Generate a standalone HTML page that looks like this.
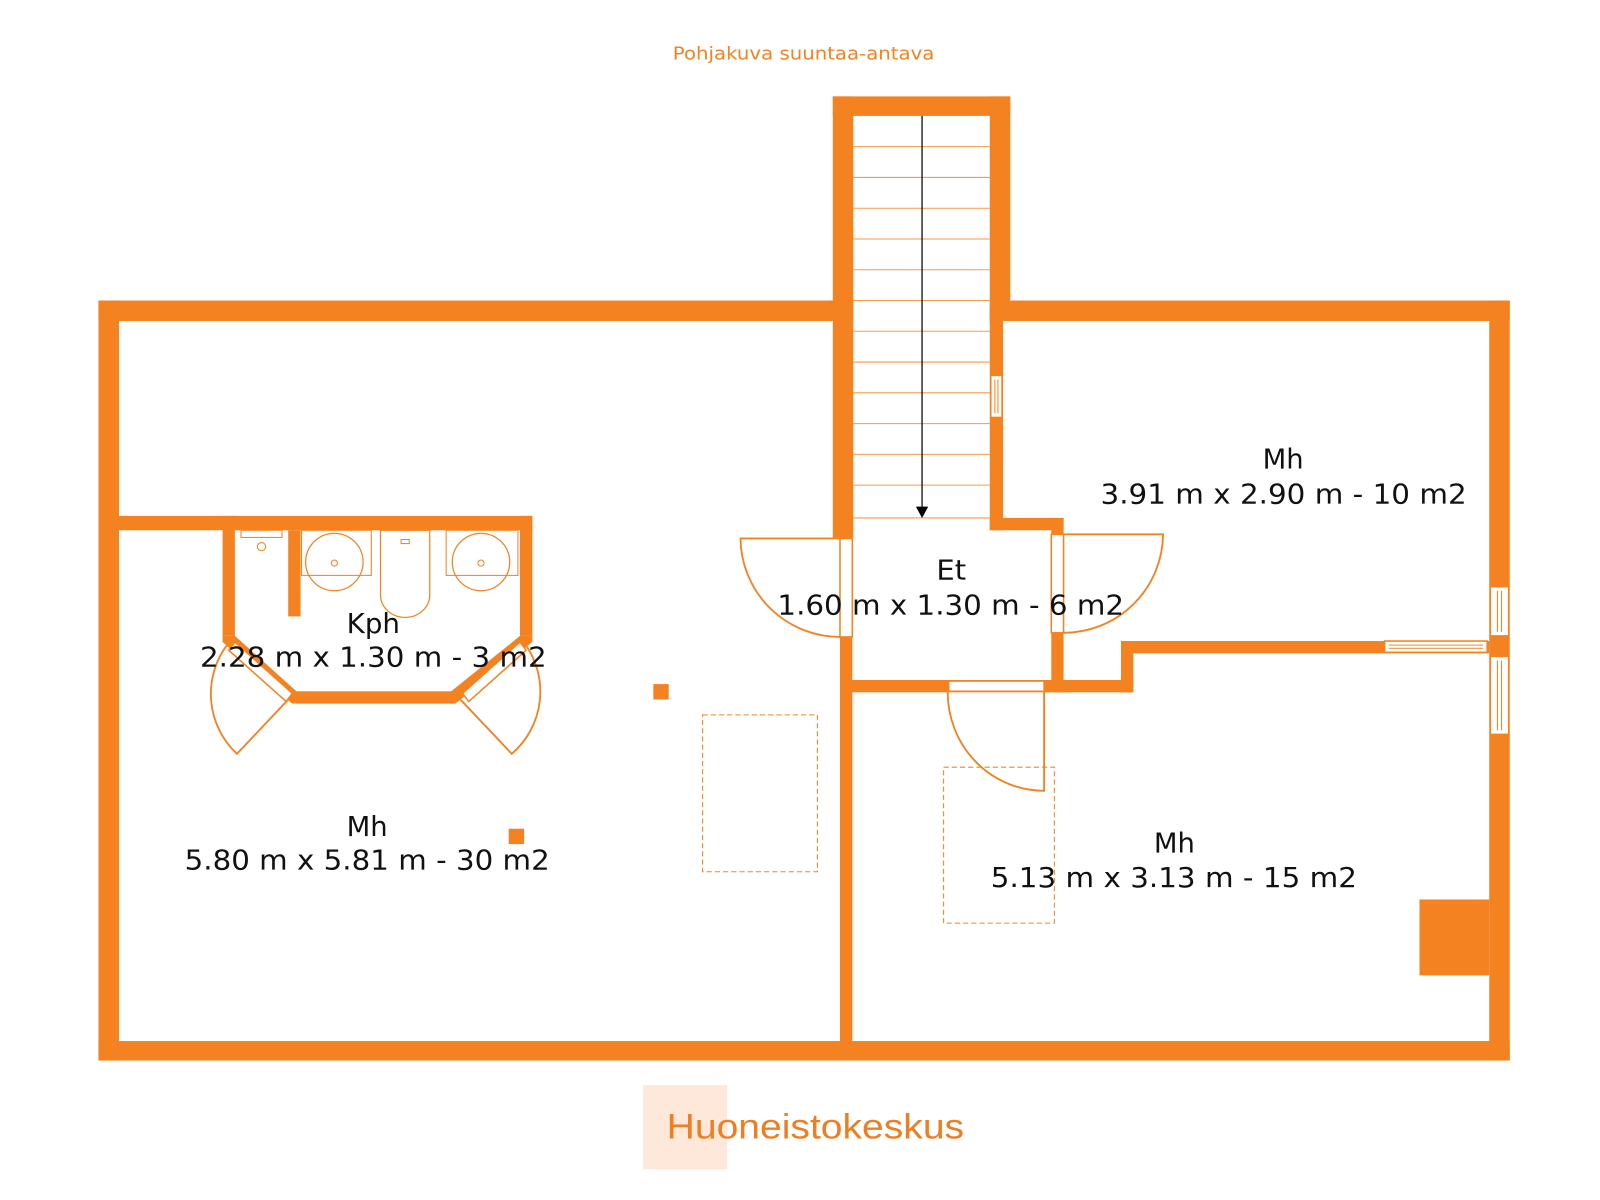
<!DOCTYPE html>
<html><head><meta charset="utf-8"><style>
html,body{margin:0;padding:0;background:#fff;}
svg{display:block;}
text{font-family:"DejaVu Sans","Liberation Sans",sans-serif;}
</style></head><body>
<svg width="1600" height="1200" viewBox="0 0 1560 1170" xmlns="http://www.w3.org/2000/svg">
<g fill="#f58220" stroke="none">
<rect x="96" y="293" width="736" height="20"/>
<rect x="965" y="293" width="507" height="20"/>
<rect x="96" y="293" width="20" height="741"/>
<rect x="96" y="1015" width="1376" height="19"/>
<rect x="1452" y="293" width="20" height="741"/>
<rect x="812" y="94" width="173" height="19"/>
<rect x="812" y="94" width="20" height="430"/>
<rect x="965" y="94" width="20" height="219"/>
<rect x="965" y="300" width="13" height="217"/>
<rect x="965" y="505" width="72" height="12"/>
<rect x="1025" y="505" width="12" height="170"/>
<rect x="819" y="520" width="12" height="495"/>
<rect x="819" y="663" width="286" height="12"/>
<rect x="1093" y="625" width="12" height="50"/>
<rect x="1093" y="625" width="359" height="12"/>
<rect x="116" y="503" width="403" height="14"/>
<rect x="217" y="503" width="12" height="117"/>
<rect x="507" y="503" width="12" height="117"/>
<rect x="281" y="517" width="12" height="84"/>
<polygon points="217,620 229,620 289,674 285,686 217,626"/>
<polygon points="519,620 507,620 440,674 444,686 519,626"/>
<rect x="285" y="674" width="159" height="12"/>
<rect x="637" y="667" width="15" height="15"/>
<rect x="496" y="808" width="15" height="15"/>
<rect x="1384" y="877" width="68" height="74"/>
</g>
<g fill="#fff" stroke="#f58220" stroke-width="1.5">
<rect x="925" y="664" width="93" height="10"/>
<rect x="966" y="366" width="11" height="41"/>
<rect x="1453" y="572" width="18" height="48"/>
<rect x="1453" y="640" width="18" height="76"/>
<rect x="1350" y="625" width="100" height="11"/>
<rect x="819" y="525" width="12" height="96"/>
<rect x="1025" y="521" width="12" height="96"/>
<polygon points="229,626 285,676 279,684 223,634"/>
<polygon points="507,626 451,676 457,684 513,634"/>
</g>
<g stroke="#f58220" stroke-width="1">
<line x1="1460" y1="576" x2="1460" y2="616"/><line x1="1464" y1="576" x2="1464" y2="616"/>
<line x1="1460" y1="644" x2="1460" y2="712"/><line x1="1464" y1="644" x2="1464" y2="712"/>
<line x1="1354" y1="629" x2="1446" y2="629"/><line x1="1354" y1="632" x2="1446" y2="632"/>
<line x1="970" y1="370" x2="970" y2="403"/><line x1="973" y1="370" x2="973" y2="403"/>
</g>
<g fill="none" stroke="#f58220" stroke-width="1.8">
<path d="M819,525 L722,525 A97,97 0 0 0 819,621"/>
<path d="M1037,521 L1134,521 A97,97 0 0 1 1037,617"/>
<path d="M924,675 A94,96 0 0 0 1018,771 L1018,675"/>
<path d="M283,680 L231,735 A80,80 0 0 1 222,628"/>
<path d="M447,680 L499,735 A80,80 0 0 0 512,628"/>
<rect x="235" y="517" width="40" height="7" stroke-width="1"/>
<circle cx="255" cy="533" r="4" stroke-width="1"/>
<rect x="294" y="517" width="68" height="44" stroke-width="1"/>
<circle cx="326" cy="548" r="28" stroke-width="1.2"/>
<circle cx="326" cy="549" r="3" stroke-width="1"/>
<path d="M371,517 L419,517 L419,580 A24,22 0 0 1 371,580 Z" stroke-width="1.2"/>
<rect x="391" y="526" width="8" height="4" stroke-width="1"/>
<rect x="435" y="517" width="70" height="44" stroke-width="1"/>
<circle cx="469" cy="548" r="28" stroke-width="1.2"/>
<circle cx="469" cy="549" r="3" stroke-width="1"/>
</g>
<g stroke="#f58220" stroke-width="1" fill="none" stroke-dasharray="5,3">
<rect x="685" y="697" width="112" height="153"/>
<rect x="920" y="748" width="108" height="152"/>
</g>
<g stroke="#f58220" stroke-width="1" opacity="0.8">
<line x1="832" y1="143" x2="965" y2="143"/><line x1="832" y1="173" x2="965" y2="173"/>
<line x1="832" y1="203" x2="965" y2="203"/><line x1="832" y1="233" x2="965" y2="233"/>
<line x1="832" y1="263" x2="965" y2="263"/><line x1="832" y1="293" x2="965" y2="293"/>
<line x1="832" y1="323" x2="965" y2="323"/><line x1="832" y1="353" x2="965" y2="353"/>
<line x1="832" y1="383" x2="965" y2="383"/><line x1="832" y1="413" x2="965" y2="413"/>
<line x1="832" y1="443" x2="965" y2="443"/><line x1="832" y1="473" x2="965" y2="473"/>
<line x1="832" y1="505" x2="965" y2="505"/>
</g>
<line x1="899" y1="113" x2="899" y2="496" stroke="#000" stroke-width="1.2"/>
<polygon points="893,494 905,494 899,505" fill="#000"/>
<text x="656" y="58" font-size="17" fill="#f58220" textLength="255" lengthAdjust="spacingAndGlyphs">Pohjakuva suuntaa-antava</text>
<g font-size="27" fill="#111">
<text x="1231" y="457" textLength="40" lengthAdjust="spacingAndGlyphs">Mh</text>
<text x="1073" y="491" textLength="357" lengthAdjust="spacingAndGlyphs">3.91 m x 2.90 m - 10 m2</text>
<text x="913" y="565" textLength="29" lengthAdjust="spacingAndGlyphs">Et</text>
<text x="758" y="599" textLength="338" lengthAdjust="spacingAndGlyphs">1.60 m x 1.30 m - 6 m2</text>
<text x="338" y="617" textLength="52" lengthAdjust="spacingAndGlyphs">Kph</text>
<text x="195" y="650" textLength="338" lengthAdjust="spacingAndGlyphs">2.28 m x 1.30 m - 3 m2</text>
<text x="338" y="815" textLength="40" lengthAdjust="spacingAndGlyphs">Mh</text>
<text x="180" y="848" textLength="356" lengthAdjust="spacingAndGlyphs">5.80 m x 5.81 m - 30 m2</text>
<text x="1125" y="831" textLength="40" lengthAdjust="spacingAndGlyphs">Mh</text>
<text x="966" y="865" textLength="357" lengthAdjust="spacingAndGlyphs">5.13 m x 3.13 m - 15 m2</text>
</g>
<rect x="627" y="1058" width="82" height="82" fill="#fde8da"/>
<text x="650" y="1110" font-size="34" fill="#ef7d22" textLength="290" lengthAdjust="spacingAndGlyphs" style="font-family:'Liberation Sans',sans-serif">Huoneistokeskus</text>
</svg>
</body></html>
